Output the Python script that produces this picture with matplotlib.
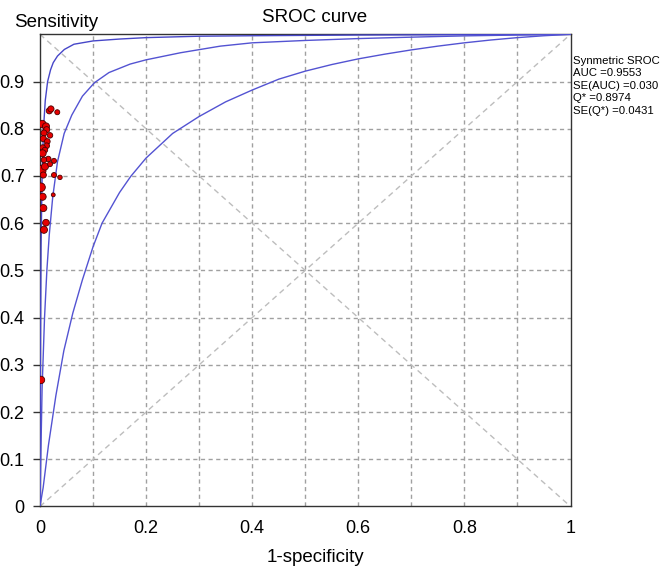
import matplotlib.pyplot as plt
import numpy as np

plt.rcParams['font.family'] = ['Liberation Sans', 'DejaVu Sans']

# study points (1-specificity, sensitivity) and relative weights
fpr = [0.0176, 0.0207, 0.0326, 0.0044, 0.0113, 0.0126, 0.0075, 0.0189, 0.0063, 0.0138,
       0.0126, 0.0050, 0.0094, 0.0050, 0.0157, 0.0264, 0.0075, 0.0013, 0.0094, 0.0189,
       0.0063, 0.0264, 0.0377, 0.0019, 0.0050, 0.0250, 0.0063, 0.0113, 0.0075, 0.0019]
sens = [0.838, 0.842, 0.835, 0.810, 0.805, 0.798, 0.791, 0.786, 0.779, 0.773,
        0.764, 0.760, 0.755, 0.748, 0.736, 0.732, 0.734, 0.711, 0.720, 0.725,
        0.702, 0.702, 0.697, 0.676, 0.656, 0.660, 0.632, 0.601, 0.586, 0.268]
weight = [1.5, 1.5, 1.0, 2.2, 2.0, 1.5, 1.5, 1.2, 1.5, 1.3,
          1.3, 1.3, 1.2, 2.0, 1.2, 1.0, 1.2, 4.5, 2.0, 1.0,
          1.5, 1.0, 0.8, 3.0, 2.0, 0.6, 2.0, 1.8, 2.0, 2.2]

# curves
outer_x = [0.0, 0.0002, 0.001, 0.002, 0.004, 0.0066, 0.010, 0.0144, 0.020, 0.025, 0.033,
           0.046, 0.064, 0.100, 0.150, 0.200, 0.300, 0.400, 0.600, 0.800, 1.0]
outer_y = [0.0, 0.12, 0.35, 0.55, 0.70, 0.80, 0.86, 0.90, 0.925, 0.940, 0.954,
           0.968, 0.979, 0.986, 0.990, 0.993, 0.996, 0.997, 0.9985, 0.9993, 1.0]

mid_x = [0.0, 0.0015, 0.004, 0.0086, 0.013, 0.0175, 0.024, 0.033, 0.0456, 0.060, 0.080,
         0.1026, 0.130, 0.170, 0.200, 0.265, 0.340, 0.400, 0.500, 0.600, 0.700, 0.800,
         0.900, 1.0]
mid_y = [0.0, 0.10, 0.25, 0.40, 0.50, 0.575, 0.655, 0.730, 0.790, 0.829, 0.869,
         0.8974, 0.919, 0.937, 0.946, 0.961, 0.975, 0.982, 0.987, 0.991, 0.994, 0.9967,
         0.9985, 1.0]

inner_x = [0.0, 0.006, 0.016, 0.030, 0.045, 0.062, 0.080, 0.100, 0.117, 0.150, 0.171,
           0.200, 0.250, 0.300, 0.350, 0.400, 0.450, 0.500, 0.550, 0.600, 0.650, 0.700,
           0.750, 0.800, 0.850, 0.900, 0.950, 1.0]
inner_y = [0.0, 0.04, 0.13, 0.235, 0.33, 0.41, 0.48, 0.55, 0.60, 0.665, 0.699,
           0.738, 0.79, 0.826, 0.857, 0.882, 0.905, 0.922, 0.936, 0.948, 0.958, 0.967,
           0.975, 0.982, 0.988, 0.993, 0.997, 1.0]

stats = ['Synmetric SROC', 'AUC =0.9553', 'SE(AUC) =0.030', 'Q* =0.8974', 'SE(Q*) =0.0431']

fig = plt.figure(figsize=(6.64, 5.73), dpi=100)
ax = fig.add_axes([0.0602, 0.1161, 0.799, 0.824])

# grid and diagonals
for v in np.arange(0.1, 1.0, 0.1):
    ax.axvline(v, color='#a0a0a0', lw=1, ls=(0, (3, 2.5)), zorder=1)
    ax.axhline(v, color='#a0a0a0', lw=1, ls=(0, (3, 2.5)), zorder=1)
ax.plot([0, 1], [0, 1], color='#bdbdbd', lw=1, ls=(0, (4, 3)), zorder=1)
ax.plot([0, 1], [1, 0], color='#bdbdbd', lw=1, ls=(0, (4, 3)), zorder=1)

ax.plot(outer_x, outer_y, color='#4646c8', lw=1.0, zorder=3)
ax.plot(mid_x, mid_y, color='#5353d2', lw=1.0, zorder=3)
ax.plot(inner_x, inner_y, color='#5353d2', lw=1.0, zorder=3)

ax.scatter(fpr, sens, s=[w * 13 for w in weight], c='#e60000', edgecolors='#4a0000',
           linewidths=0.6, zorder=4)

ax.set_xlim(0, 1)
ax.set_ylim(0, 1)
ax.set_xticks([0, 0.2, 0.4, 0.6, 0.8, 1.0])
ax.set_xticklabels(['0', '0.2', '0.4', '0.6', '0.8', '1'])
ax.set_yticks(np.arange(0, 1.0, 0.1))
ax.set_yticklabels(['0', '0.1', '0.2', '0.3', '0.4', '0.5', '0.6', '0.7', '0.8', '0.9'])
ax.tick_params(axis='y', length=5, width=1, color='#333333', labelsize=13, pad=6)
ax.tick_params(axis='x', length=0, labelsize=13, pad=10)
for s in ax.spines.values():
    s.set_color('#333333')
    s.set_linewidth(1)

fig.text(14 / 664, 1 - 27.3 / 573, 'Sensitivity', fontsize=13.5, ha='left', va='baseline')
fig.text(314.5 / 664, 1 - 21.7 / 573, 'SROC curve', fontsize=13.5, ha='center', va='baseline')
fig.text(315.3 / 664, 1 - 561.7 / 573, '1-specificity', fontsize=13.5, ha='center', va='baseline')
fig.text(573 / 664, 1 - 56 / 573, '\n'.join(stats), fontsize=8.2, ha='left', va='top',
         linespacing=1.3)

fig.savefig('out.png', dpi=100)
